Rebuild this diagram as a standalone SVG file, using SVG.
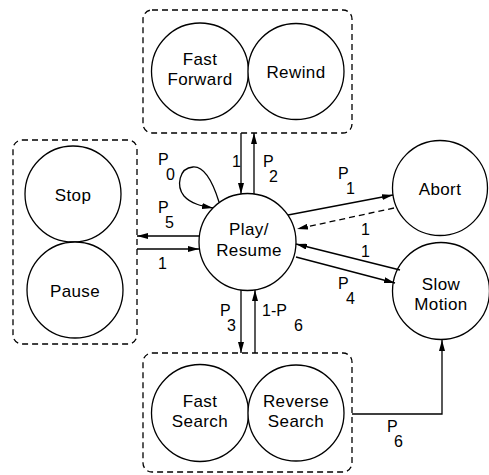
<svg xmlns="http://www.w3.org/2000/svg" width="489" height="475" viewBox="0 0 489 475">
<style>
.grp{fill:none;stroke:#000;stroke-width:1.3;stroke-dasharray:6 4}
.node{fill:#fff;stroke:#000;stroke-width:1.3}
.t{font-family:"Liberation Sans",Arial,sans-serif;font-size:17px;letter-spacing:0.4px;fill:#000;text-anchor:middle}
.l{font-family:"Liberation Sans",Arial,sans-serif;font-size:16px;fill:#000}
.e{fill:none;stroke:#000;stroke-width:1.3}
.d{stroke-dasharray:6 4}
</style>
<defs>
<marker id="ah" markerWidth="11" markerHeight="6" refX="11" refY="3" orient="auto" markerUnits="userSpaceOnUse"><path d="M0,0 L11,3 L0,6 z" fill="#000"/></marker>
</defs>
<rect class="grp" x="143" y="10" width="209" height="123" rx="9"/>
<rect class="grp" x="13" y="140" width="124" height="204" rx="9"/>
<rect class="grp" x="143" y="353" width="209" height="119" rx="9"/>
<g id="fastforward"><circle class="node" cx="200" cy="71.5" r="48.5"/><text class="t" x="200" y="65">Fast</text><text class="t" x="200" y="85">Forward</text></g>
<g id="rewind"><circle class="node" cx="296" cy="71.5" r="48"/><text class="t" x="296" y="78">Rewind</text></g>
<g id="stop"><circle class="node" cx="73" cy="194" r="48"/><text class="t" x="73" y="201">Stop</text></g>
<g id="pause"><circle class="node" cx="75" cy="290" r="48"/><text class="t" x="75" y="297">Pause</text></g>
<g id="play"><circle class="node" cx="247.5" cy="242" r="48.5"/><text class="t" x="249" y="235">Play/</text><text class="t" x="249" y="256">Resume</text></g>
<g id="abort"><circle class="node" cx="440" cy="188" r="47.5"/><text class="t" x="440" y="195">Abort</text></g>
<g id="slowmotion"><circle class="node" cx="441" cy="291" r="48.5"/><text class="t" x="441" y="290">Slow</text><text class="t" x="441" y="310">Motion</text></g>
<g id="fastsearch"><circle class="node" cx="200" cy="413" r="48.5"/><text class="t" x="200" y="407">Fast</text><text class="t" x="200" y="427">Search</text></g>
<g id="reversesearch"><circle class="node" cx="296" cy="413" r="48"/><text class="t" x="296" y="407">Reverse</text><text class="t" x="296" y="427">Search</text></g>
<g id="connectors">
<line class="e" x1="241" y1="133" x2="241" y2="194" marker-end="url(#ah)"/>
<line class="e" x1="254" y1="194" x2="254" y2="133" marker-end="url(#ah)"/>
<path class="e" d="M219 202 C214 186 206 166 193 167 C179 168 176 186 184 196 C191 204 202 206 213 208" marker-end="url(#ah)"/>
<line class="e" x1="199" y1="236" x2="137" y2="236" marker-end="url(#ah)"/>
<line class="e" x1="137" y1="249" x2="199" y2="249" marker-end="url(#ah)"/>
<line class="e" x1="241" y1="290" x2="241" y2="353" marker-end="url(#ah)"/>
<line class="e" x1="255" y1="353" x2="255" y2="290" marker-end="url(#ah)"/>
<polyline class="e" points="352,414 442,414 442,340" marker-end="url(#ah)"/>
<line class="e" x1="288" y1="215" x2="393" y2="195" marker-end="url(#ah)"/>
<line class="e d" x1="394" y1="208" x2="297" y2="229" marker-end="url(#ah)"/>
<line class="e" x1="400" y1="270" x2="296" y2="244" marker-end="url(#ah)"/>
<line class="e" x1="296" y1="257" x2="395" y2="283" marker-end="url(#ah)"/>
</g>
<g id="labels">
<text class="l" x="232" y="167">1</text>
<text class="l" x="263" y="167">P</text><text class="l" x="269" y="182">2</text>
<text class="l" x="158" y="165">P</text><text class="l" x="166" y="180">0</text>
<text class="l" x="158" y="213">P</text><text class="l" x="165" y="228">5</text>
<text class="l" x="158" y="269">1</text>
<text class="l" x="220" y="316">P</text><text class="l" x="227" y="331">3</text>
<text class="l" x="262" y="316">1-P</text><text class="l" x="294" y="331">6</text>
<text class="l" x="387" y="432">P</text><text class="l" x="394" y="447">6</text>
<text class="l" x="338" y="179">P</text><text class="l" x="346" y="194">1</text>
<text class="l" x="361" y="235">1</text>
<text class="l" x="361" y="257">1</text>
<text class="l" x="338" y="289">P</text><text class="l" x="346" y="304">4</text>
</g>
</svg>
